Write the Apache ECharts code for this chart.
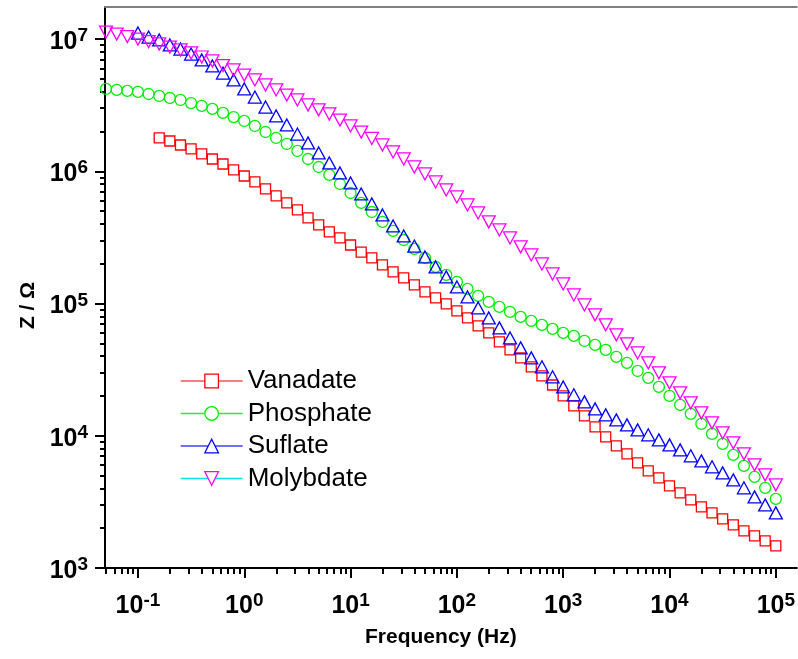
<!DOCTYPE html>
<html><head><meta charset="utf-8">
<script src="https://cdn.jsdelivr.net/npm/echarts@6/dist/echarts.min.js"></script>
<style>html,body{margin:0;padding:0;background:#fff}#c{width:798px;height:659px}</style>
</head><body><div id="c"></div>
<script>
// ---- data ----
const freq = [0.0501,0.0631,0.0794,0.1,0.1259,0.1585,0.1995,0.2512,0.3162,0.3981,0.5012,0.631,0.7943,1,1.259,1.585,1.995,2.512,3.162,3.981,5.012,6.31,7.943,10,12.59,15.85,19.95,25.12,31.62,39.81,50.12,63.1,79.43,100,125.9,158.5,199.5,251.2,316.2,398.1,501.2,631,794.3,1000,1259,1585,1995,2512,3162,3981,5012,6310,7943,10000,12590,15850,19950,25120,31620,39810,50120,63100,79430,100000];
const vanadateFreq = freq.slice(5);
const phosphateFreq = freq.slice(0);
const sulfateFreq = freq.slice(3);
const molybdateFreq = freq.slice(0);

const vanadate = [1.785e6,1.694e6,1.580e6,1.474e6,1.351e6,1.238e6,1.135e6,1.023e6,9.21e5,8.30e5,7.35e5,6.51e5,5.76e5,5.10e5,4.44e5,3.93e5,3.48e5,3.13e5,2.77e5,2.45e5,2.21e5,1.957e5,1.733e5,1.561e5,1.382e5,1.224e5,1.102e5,9.93e4,8.79e4,7.78e4,6.77e4,5.99e4,5.12e4,4.46e4,3.88e4,3.32e4,2.84e4,2.42e4,2.00e4,1.682e4,1.414e4,1.167e4,9.80e3,8.38e3,7.30e3,6.24e3,5.43e3,4.80e3,4.18e3,3.70e3,3.28e3,2.90e3,2.61e3,2.35e3,2.12e3,1.91e3,1.751e3,1.605e3,1.471e3];
const phosphate = [4.19e6,4.12e6,4.05e6,3.98e6,3.84e6,3.71e6,3.58e6,3.46e6,3.28e6,3.12e6,2.96e6,2.76e6,2.57e6,2.40e6,2.20e6,1.98e6,1.785e6,1.608e6,1.424e6,1.238e6,1.077e6,9.38e5,8.01e5,6.85e5,5.76e5,4.92e5,4.14e5,3.54e5,3.02e5,2.59e5,2.21e5,1.890e5,1.645e5,1.456e5,1.289e5,1.141e5,1.028e5,9.42e4,8.64e4,7.92e4,7.39e4,6.89e4,6.43e4,5.99e4,5.69e4,5.21e4,4.86e4,4.46e4,3.95e4,3.56e4,3.09e4,2.74e4,2.34e4,2.00e4,1.712e4,1.464e4,1.230e4,1.033e4,8.68e3,7.17e3,5.92e3,4.89e3,4.04e3,3.33e3];
const sulfate = [1.110e7,1.035e7,9.83e6,9.01e6,8.40e6,7.70e6,6.94e6,6.25e6,5.53e6,4.90e6,4.19e6,3.64e6,3.06e6,2.62e6,2.24e6,1.91e6,1.636e6,1.375e6,1.155e6,9.71e5,8.16e5,6.74e5,5.66e5,4.67e5,3.86e5,3.24e5,2.72e5,2.25e5,1.890e5,1.589e5,1.335e5,1.121e5,9.26e4,7.78e4,6.54e4,5.49e4,4.62e4,3.88e4,3.32e4,2.79e4,2.34e4,2.04e4,1.804e4,1.597e4,1.438e4,1.318e4,1.209e4,1.108e4,1.016e4,9.31e3,8.53e3,7.82e3,7.05e3,6.46e3,5.82e3,5.24e3,4.64e3,4.04e3,3.45e3,3.00e3,2.61e3];
const molybdate = [1.129e7,1.091e7,1.044e7,1.000e7,9.57e6,9.17e6,8.70e6,8.26e6,7.84e6,7.31e6,6.82e6,6.30e6,5.83e6,5.34e6,4.90e6,4.49e6,4.12e6,3.77e6,3.46e6,3.17e6,2.91e6,2.71e6,2.44e6,2.20e6,1.98e6,1.77e6,1.580e6,1.399e6,1.238e6,1.077e6,9.54e5,8.30e5,7.22e5,6.39e5,5.56e5,4.84e5,4.14e5,3.60e5,3.13e5,2.68e5,2.33e5,1.991e5,1.673e5,1.406e5,1.161e5,9.75e4,8.20e4,6.89e4,5.79e4,4.95e4,4.23e4,3.56e4,2.99e4,2.51e4,2.11e4,1.772e4,1.489e4,1.251e4,1.051e4,8.84e3,7.30e3,6.03e3,5.06e3,4.25e3];

const seriesNames = ['Vanadate','Phosphate','Suflate','Molybdate'];
const xMajorTicks = [0.1,1,10,100,1000,10000,100000];
const yMajorTicks = [1e3,1e4,1e5,1e6,1e7];
const minorMantissas = [2,3,4,5,6,7,8,9];
const xMinorTicks = [0.05,0.06,0.07,0.08,0.09];
[0.1,1,10,100,1000,10000].forEach(d => minorMantissas.forEach(m => xMinorTicks.push(+(d*m).toPrecision(3))));
const yMinorTicks = [];
[1e3,1e4,1e5,1e6].forEach(d => minorMantissas.forEach(m => yMinorTicks.push(d*m)));

// ---- chart ----
const FONT = "'Liberation Sans', Arial, sans-serif";
const X_MIN = 0.04899, X_MAX = 157400, Y_MIN = 1000, Y_MAX = 1.7458e7;
const pow10 = v => { const e = Math.round(Math.log10(v)); return '{b|10}{s|' + e + '}'; };
const rich = {
  b: {fontFamily: FONT, fontWeight: 'bold', fontSize: 25, lineHeight: 25, color: '#000', padding: [6,0,0,0]},
  s: {fontFamily: FONT, fontWeight: 'bold', fontSize: 19, lineHeight: 19, color: '#000', verticalAlign: 'top'}
};
const pairs = (xs, ys) => xs.map((x, i) => [x, ys[i]]);
const colors = ['#ff0000', '#00ee00', '#0000ff', '#ff00ff'];
const legendLine = ['#ff5050', '#40e040', '#4040ff', '#00e8e8'];
const symbols = ['rect', 'circle', 'triangle', 'triangle'];
const sizes = [10, 11, [13, 12], [13, 12]];
const rot = [0, 0, 0, 180];
const datasets = [pairs(vanadateFreq, vanadate), pairs(phosphateFreq, phosphate), pairs(sulfateFreq, sulfate), pairs(molybdateFreq, molybdate)];

const chart = echarts.init(document.getElementById('c'), null, {renderer: 'canvas'});
chart.setOption({
  animation: false,
  backgroundColor: '#fff',
  grid: {left: 105, right: 0, top: 7, bottom: 91, containLabel: false},
  legend: {
    orient: 'vertical', left: 180, top: 368, padding: 0,
    itemWidth: 62, itemHeight: 17, itemGap: 6.5,
    textStyle: {fontFamily: FONT, fontSize: 26, color: '#000', lineHeight: 24},
    data: seriesNames.map((n, i) => ({
      name: n,
      itemStyle: {color: '#fff', borderColor: colors[i], borderWidth: 1.3},
      lineStyle: {color: legendLine[i], width: 1.3, opacity: 1}
    }))
  },
  xAxis: [
    {type: 'log', min: X_MIN, max: X_MAX, position: 'bottom', name: 'Frequency (Hz)', nameLocation: 'middle', nameGap: 59,
     nameTextStyle: {fontFamily: FONT, fontWeight: 'bold', fontSize: 21, color: '#000', padding: [0, 20, 0, 0]},
     axisLine: {show: true, onZero: false, lineStyle: {color: '#000', width: 2}},
     axisTick: {show: true, inside: false, length: 10, lineStyle: {color: '#000', width: 2}, customValues: xMajorTicks},
     axisLabel: {show: true, margin: 23, customValues: xMajorTicks, formatter: pow10, rich: rich},
     splitLine: {show: false}, minorTick: {show: false}},
    {type: 'log', min: X_MIN, max: X_MAX, position: 'bottom',
     axisLine: {show: false}, axisLabel: {show: false}, splitLine: {show: false},
     axisTick: {show: true, inside: false, length: 6, lineStyle: {color: '#000', width: 2}, customValues: xMinorTicks}},
    {type: 'log', min: X_MIN, max: X_MAX, position: 'top',
     axisLine: {show: true, onZero: false, lineStyle: {color: '#808080', width: 2}},
     axisTick: {show: false}, axisLabel: {show: false}, splitLine: {show: false}}
  ],
  yAxis: [
    {type: 'log', min: Y_MIN, max: Y_MAX, position: 'left', name: 'Z / Ω', nameLocation: 'middle', nameGap: 64, nameRotate: 90,
     nameTextStyle: {fontFamily: FONT, fontWeight: 'bold', fontSize: 21, color: '#000', padding: [0, 36, 0, 0]},
     axisLine: {show: true, onZero: false, lineStyle: {color: '#000', width: 2}},
     axisTick: {show: true, inside: false, length: 10, lineStyle: {color: '#000', width: 2}, customValues: yMajorTicks},
     axisLabel: {show: true, margin: 17, customValues: yMajorTicks, formatter: pow10, rich: rich},
     splitLine: {show: false}, minorTick: {show: false}},
    {type: 'log', min: Y_MIN, max: Y_MAX, position: 'left',
     axisLine: {show: false}, axisLabel: {show: false}, splitLine: {show: false},
     axisTick: {show: true, inside: false, length: 5, lineStyle: {color: '#000', width: 2}, customValues: yMinorTicks}}
  ],
  series: seriesNames.map((n, i) => ({
    name: n, type: 'line', xAxisIndex: 0, yAxisIndex: 0,
    data: datasets[i], symbol: symbols[i], symbolSize: sizes[i], symbolRotate: rot[i],
    showSymbol: true, showAllSymbol: true, clip: false,
    lineStyle: {opacity: 0, width: 0, color: legendLine[i]},
    itemStyle: {color: 'rgba(255,255,255,0)', borderColor: colors[i], borderWidth: 1.3},
    emphasis: {disabled: true}
  }))
});
</script></body></html>
